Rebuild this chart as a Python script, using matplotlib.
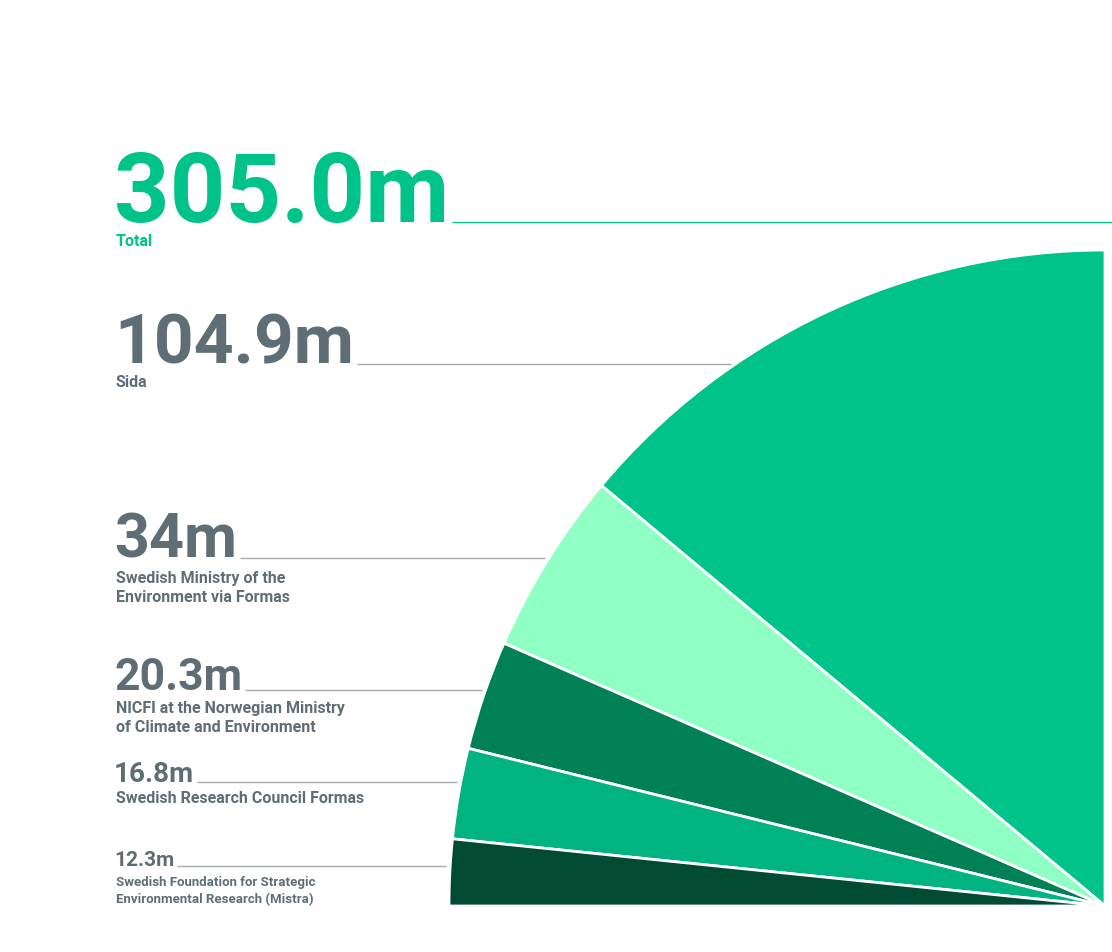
import numpy as np
import matplotlib.pyplot as plt
from matplotlib.patches import Wedge

total_label = "305.0m"
total_name = "Total"
amounts = [104.9, 34, 20.3, 16.8, 12.3]
amount_labels = ["104.9m", "34m", "20.3m", "16.8m", "12.3m"]
names = ["Sida",
         "Swedish Ministry of the\nEnvironment via Formas",
         "NICFI at the Norwegian Ministry\nof Climate and Environment",
         "Swedish Research Council Formas",
         "Swedish Foundation for Strategic\nEnvironmental Research (Mistra)"]
colors = ["#00c389", "#8fffc4", "#008055", "#00b381", "#004b32"]

W, H = 1112, 952
fig = plt.figure(figsize=(W / 100, H / 100), dpi=100)
ax = fig.add_axes([0, 0, 1, 1])
ax.set_xlim(0, W)
ax.set_ylim(0, H)
ax.axis("off")

green = "#00c389"
grey = "#5f6e75"
line_grey = "#a3abb0"
plt.rcParams["font.family"] = ["Roboto", "DejaVu Sans"]

# quarter pie, centre bottom right
cy_px = 906
cx, cy, r = 1105, H - cy_px, 656
vals = np.array(amounts)
edges = 90 + 90 * np.concatenate([[0], np.cumsum(vals)]) / vals.sum()
for i, c in enumerate(colors):
    ax.add_patch(Wedge((cx, cy), r, edges[i], edges[i + 1], facecolor=c,
                       edgecolor="white", linewidth=2))

fig.canvas.draw()
rend = fig.canvas.get_renderer()

def label(num, name, y, size, nsize, col, gap, step):
    t = ax.text(114, H - y, num, fontsize=size, fontweight="bold", color=col,
                va="baseline", ha="left")
    for k, ln in enumerate(name.split("\n")):
        ax.text(116, H - (y + gap + k * step), ln, fontsize=nsize,
                fontweight="bold", color=col, va="baseline", ha="left")
    return t.get_window_extent(rend).x1

# total
x1 = label(total_label, total_name, 222, 70, 11.5, green, 24, 19)
ax.plot([x1 + 3, W], [H - 222, H - 222], color=green, lw=0.9,
        solid_capstyle="butt")

rows = [(364, 50, 11.5, 23, 19), (558, 44, 11.5, 25, 19),
        (690, 32, 11.5, 23, 19), (782, 20, 11.5, 21, 19),
        (866, 15, 9.5, 20, 17)]
for (y, s, ns, g, st), lab, nm in zip(rows, amount_labels, names):
    x1 = label(lab, nm, y, s, ns, grey, g, st)
    dy = y - cy_px
    xe = cx - np.sqrt(r ** 2 - dy ** 2) - 4
    ax.plot([x1 + 3, xe], [H - y, H - y], color=line_grey, lw=1.0,
            solid_capstyle="butt")

fig.savefig("out.png", dpi=100, facecolor="white")
